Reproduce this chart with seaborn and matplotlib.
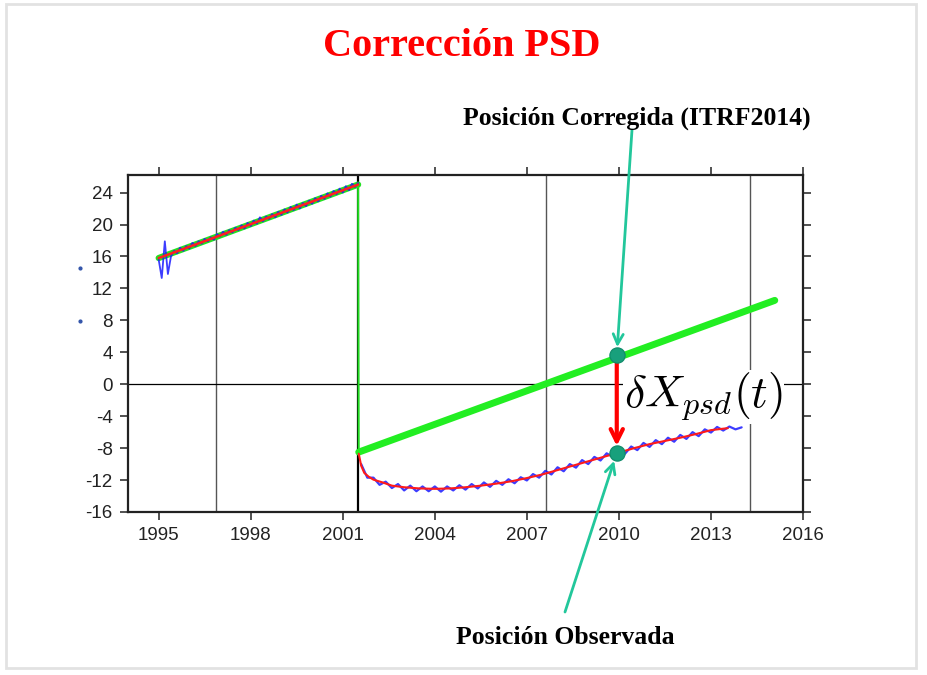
import numpy as np
import pandas as pd
import matplotlib
matplotlib.use("Agg")
import matplotlib.pyplot as plt
from matplotlib.patches import Rectangle
from matplotlib.lines import Line2D
import seaborn as sns

# ── data ──────────────────────────────────────────────────────────────────
# pre-earthquake observed series (blue), years 1995.0 .. 2001.5 step 0.1
pre_years = np.round(np.arange(1995.0, 2001.51, 0.1), 2)
pre_obs = [15.6, 13.3, 17.9, 13.8, 16.0, 16.7, 16.4, 17.1, 16.7, 17.3,
           17.0, 17.7, 17.3, 17.9, 17.6, 18.2, 17.9, 18.4, 18.1, 18.8,
           18.5, 19.1, 18.7, 19.3, 19.0, 19.6, 19.3, 19.9, 19.5, 20.2,
           19.8, 20.5, 20.1, 20.9, 20.4, 21.0, 20.7, 21.3, 20.9, 21.6,
           21.2, 21.9, 21.5, 22.2, 21.8, 22.5, 22.0, 22.7, 22.3, 23.0,
           22.6, 23.3, 22.9, 23.6, 23.2, 23.9, 23.5, 24.2, 23.8, 24.5,
           24.0, 24.8, 24.3, 25.1, 24.7, 25.2]

# pre-earthquake linear trend (red on green)
pre_trend_years = [1995.0, 2001.5]
pre_trend_vals = [15.8, 25.0]

# post-earthquake observed series (blue), 2001.6 .. 2014.0 step 0.2
post_years = np.round(np.arange(2001.6, 2014.01, 0.2), 2)
post_obs = [-10.0, -11.7, -11.7, -12.6, -12.2, -13.0, -12.5, -13.3, -12.7, -13.4,
            -12.8, -13.4, -12.8, -13.45, -12.8, -13.3, -12.65, -13.2, -12.5, -13.05,
            -12.3, -12.85, -12.1, -12.6, -11.9, -12.4, -11.65, -12.05, -11.25, -11.7,
            -10.85, -11.3, -10.4, -10.9, -10.0, -10.45, -9.5, -10.0, -9.1, -9.55,
            -8.65, -9.1, -8.25, -8.7, -7.8, -8.25, -7.35, -7.85, -7.0, -7.5,
            -6.7, -7.2, -6.35, -6.85, -6.0, -6.5, -5.65, -6.05, -5.35, -5.8,
            -5.3, -5.65, -5.4]

# post-seismic deformation model (red)
model_years = [2001.52, 2001.6, 2001.7, 2001.85, 2002.0, 2002.3, 2002.6, 2003.0,
               2003.5, 2004.0, 2004.5, 2005.0, 2005.5, 2006.0, 2006.5, 2007.0,
               2007.5, 2008.0, 2008.5, 2009.0, 2009.5, 2010.0, 2010.5, 2011.0,
               2011.5, 2012.0, 2012.5, 2013.0, 2013.55]
model_vals = [-8.7, -10.2, -11.1, -11.6, -11.95, -12.3, -12.7, -12.9,
              -13.05, -13.1, -13.05, -12.9, -12.7, -12.45, -12.15, -11.75,
              -11.3, -10.75, -10.2, -9.65, -9.1, -8.55, -8.0, -7.5,
              -7.1, -6.7, -6.25, -5.75, -5.5]

# corrected position (ITRF2014, green)
jump_years = [2001.5, 2001.52]
jump_vals = [25.0, -8.5]
corr_years = [2001.52, 2015.08]
corr_vals = [-8.5, 10.5]

# the PSD offset marked with the arrow
PSD_YEAR = 2009.93
CORR_VAL = 3.6
OBS_VAL = -8.6

grid_years = [1996.88, 2007.62, 2014.28]
quake_year = 2001.51
xticks = [1995, 1998, 2001, 2004, 2007, 2010, 2013, 2016]
yticks = list(range(-16, 25, 4))

# ── plot ──────────────────────────────────────────────────────────────────
sns.set_theme(style="white")
plt.rcParams["font.family"] = ["Liberation Sans", "DejaVu Sans"]
plt.rcParams["mathtext.fontset"] = "cm"
plt.rcParams["axes.unicode_minus"] = False

fig = plt.figure(figsize=(9.27, 6.75), dpi=100)
ax = fig.add_axes([128 / 927, 1 - 512 / 675, 675 / 927, 337 / 675])

for gx in grid_years:
    ax.axvline(gx, color="#555555", lw=1.0, zorder=1)
ax.axvline(quake_year, color="black", lw=1.6, zorder=1)
ax.axhline(0, color="black", lw=0.9, zorder=1)

# green corrected trajectory
sns.lineplot(x=pre_trend_years, y=pre_trend_vals, color="#22e022", lw=4.5, ax=ax, zorder=2)
sns.lineplot(x=jump_years, y=jump_vals, color="#22e022", lw=1.4, ax=ax, zorder=2,
             estimator=None, sort=False)
sns.lineplot(x=corr_years, y=corr_vals, color="#22ee22", lw=5, ax=ax, zorder=2)

# blue observations
sns.lineplot(x=pre_years, y=pre_obs, color="#1a1aff", lw=1.3, alpha=0.85, ax=ax, zorder=3,
             estimator=None)
sns.lineplot(x=post_years, y=post_obs, color="#1a1aff", lw=1.6, alpha=0.85, ax=ax, zorder=3,
             estimator=None)

# red model
sns.lineplot(x=pre_trend_years, y=pre_trend_vals, color="#ff2020", lw=1.8, ax=ax, zorder=4)
sns.lineplot(x=model_years, y=model_vals, color="#ff1a1a", lw=1.5, ax=ax, zorder=4,
             estimator=None)

# PSD arrow + markers
ax.annotate("", xy=(PSD_YEAR, OBS_VAL), xytext=(PSD_YEAR, CORR_VAL),
            arrowprops=dict(arrowstyle="->", color="red", lw=3, mutation_scale=22,
                            shrinkA=0, shrinkB=5), zorder=5)
sns.scatterplot(x=[PSD_YEAR, PSD_YEAR], y=[CORR_VAL, OBS_VAL], color="#18a07c",
                edgecolor="#0f8c6a", s=120, ax=ax, zorder=6)

ax.text(2012.75, -1.6, r"$\delta X_{psd}(t)$", fontsize=33, ha="center", va="center",
        color="black", zorder=7, bbox=dict(facecolor="white", edgecolor="none", pad=0.5))

ax.set_xlim(1994.0, 2016.0)
ax.set_ylim(-16, 26.2)
ax.set_xticks(xticks)
ax.set_yticks(yticks)
ax.set_xlabel("")
ax.set_ylabel("")
ax.tick_params(axis="both", direction="out", length=6, width=1.2, color="#333333",
               labelsize=13.5, labelcolor="#222222", top=True, right=True,
               bottom=True, left=True, pad=5)
for sp in ax.spines.values():
    sp.set_color("#222222")
    sp.set_linewidth(1.6)

# annotation pointers
teal = "#22c79b"
ax.annotate("", xy=(PSD_YEAR, CORR_VAL), xycoords="data",
            xytext=(632 / 927, 1 - 130 / 675), textcoords="figure fraction",
            arrowprops=dict(arrowstyle="->", color=teal, lw=2, mutation_scale=18,
                            shrinkA=0, shrinkB=6), annotation_clip=False)
ax.annotate("", xy=(PSD_YEAR, OBS_VAL), xycoords="data",
            xytext=(565 / 927, 1 - 612 / 675), textcoords="figure fraction",
            arrowprops=dict(arrowstyle="->", color=teal, lw=2, mutation_scale=18,
                            shrinkA=0, shrinkB=6), annotation_clip=False)

serif = ["Liberation Serif", "DejaVu Serif"]
fig.text(462 / 927, 1 - 46 / 675, "Corrección PSD", color="red", fontsize=29,
         fontweight="bold", family=serif, ha="center", va="center")
fig.text(637 / 927, 1 - 118 / 675, "Posición Corregida (ITRF2014)", color="black",
         fontsize=18.5, fontweight="bold", family=serif, ha="center", va="center")
fig.text(565 / 927, 1 - 638 / 675, "Posición Observada", color="black",
         fontsize=18.5, fontweight="bold", family=serif, ha="center", va="center")

# slide frame and stray dots
fig.add_artist(Rectangle((6 / 927, 7 / 675), 910 / 927, 664 / 675, transform=fig.transFigure,
                         fill=False, edgecolor="#e2e2e2", lw=2))
fig.add_artist(Line2D([80 / 927, 80 / 927], [1 - 268 / 675, 1 - 321 / 675], ls="none",
                      marker="o", ms=2, color="#3355aa", transform=fig.transFigure))

fig.savefig("out.png", dpi=100)
plt.close(fig)
